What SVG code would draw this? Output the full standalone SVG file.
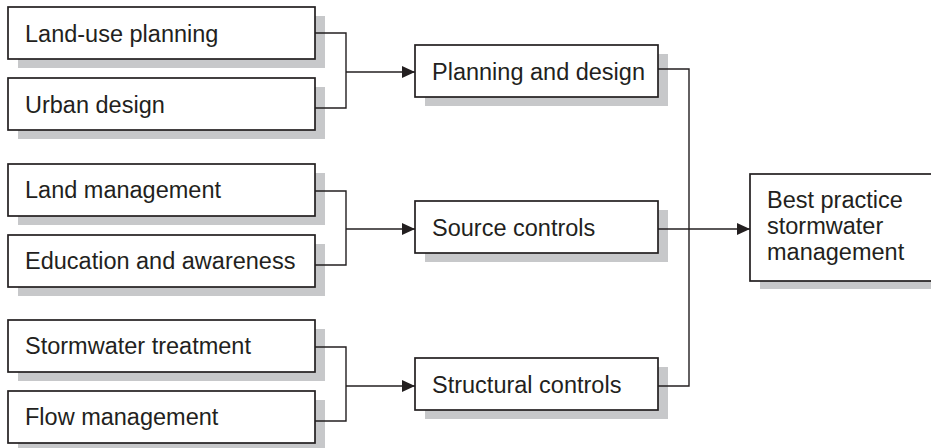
<svg xmlns="http://www.w3.org/2000/svg" width="931" height="448" viewBox="0 0 931 448">
<style>
.sh{fill:#c7c8ca;stroke:none}
.bx{fill:#fff;stroke:#231f20;stroke-width:1.7}
.t{font-family:"Liberation Sans",Arial,sans-serif;font-size:23.5px;fill:#231f20}
.c{fill:none;stroke:#231f20;stroke-width:1.4}
</style>
<defs>
<marker id="ah" markerWidth="13" markerHeight="12" refX="13" refY="6" orient="auto" markerUnits="userSpaceOnUse">
<path d="M0,0 L13,6 L0,12 Z" fill="#231f20"/>
</marker>
</defs>
<rect width="931" height="448" fill="#fff"/>
<g id="n-landuse"><rect class="sh" x="18" y="16" width="307" height="52"/><rect class="bx" x="8" y="7" width="307" height="52"/><text class="t" x="25" y="42">Land-use planning</text></g>
<g id="n-urban"><rect class="sh" x="18" y="87" width="307" height="52"/><rect class="bx" x="8" y="78" width="307" height="52"/><text class="t" x="25" y="113">Urban design</text></g>
<g id="n-landmgmt"><rect class="sh" x="18" y="173" width="307" height="52"/><rect class="bx" x="8" y="164" width="307" height="52"/><text class="t" x="25" y="198">Land management</text></g>
<g id="n-education"><rect class="sh" x="18" y="244" width="307" height="52"/><rect class="bx" x="8" y="235" width="307" height="52"/><text class="t" x="25" y="269">Education and awareness</text></g>
<g id="n-stormtreat"><rect class="sh" x="18" y="329" width="307" height="52"/><rect class="bx" x="8" y="320" width="307" height="52"/><text class="t" x="25" y="354">Stormwater treatment</text></g>
<g id="n-flow"><rect class="sh" x="18" y="400" width="307" height="52"/><rect class="bx" x="8" y="391" width="307" height="52"/><text class="t" x="25" y="425">Flow management</text></g>
<g id="n-planning"><rect class="sh" x="425" y="54" width="243" height="52"/><rect class="bx" x="415" y="45" width="243" height="52"/><text class="t" x="432" y="79.5">Planning and design</text></g>
<g id="n-source"><rect class="sh" x="425" y="210" width="243" height="52"/><rect class="bx" x="415" y="201" width="243" height="52"/><text class="t" x="432" y="235.5">Source controls</text></g>
<g id="n-structural"><rect class="sh" x="425" y="367" width="243" height="52"/><rect class="bx" x="415" y="358" width="243" height="52"/><text class="t" x="432" y="392.5">Structural controls</text></g>
<g id="n-best"><rect class="sh" x="760" y="182" width="190" height="107"/><rect class="bx" x="750" y="174" width="190" height="107"/><text class="t" x="767" y="208">Best practice</text><text class="t" x="767" y="234">stormwater</text><text class="t" x="767" y="260">management</text></g>
<g id="connectors">
<path class="c" d="M315,33 H346 V108 H315"/>
<path class="c" d="M346,72 H415" marker-end="url(#ah)"/>
<path class="c" d="M315,191 H346 V265 H315"/>
<path class="c" d="M346,229 H415" marker-end="url(#ah)"/>
<path class="c" d="M315,347 H346 V421 H315"/>
<path class="c" d="M346,386 H415" marker-end="url(#ah)"/>
<path class="c" d="M658,69 H689 V386 H658"/>
<path class="c" d="M658,229 H750" marker-end="url(#ah)"/>
</g>
</svg>
